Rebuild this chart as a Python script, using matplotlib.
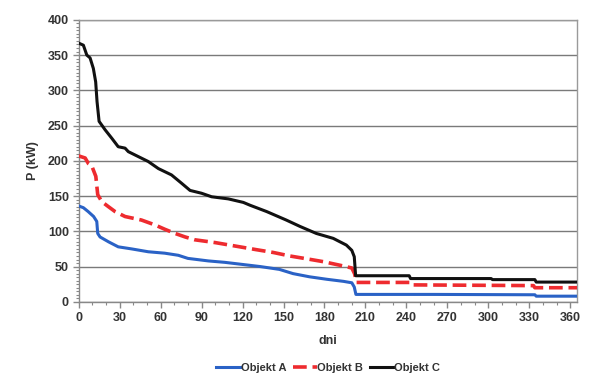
import matplotlib
matplotlib.use("Agg")
import matplotlib.pyplot as plt
from matplotlib.ticker import MultipleLocator

# Objekt A (blue)
days_a = [0, 3.5, 7, 11, 13.3, 14, 15.7, 22, 29, 39, 51, 63, 73, 80, 95, 107, 120,
          133, 147, 157, 169, 181.6, 194, 200, 201.8, 203, 260, 334, 335, 365]
kw_a = [136, 133.5, 128, 121, 114, 97, 92, 85, 78, 75, 71, 69, 66, 61.6, 58, 56, 53,
        50, 46, 40, 35.5, 32, 29, 27, 21, 10.5, 10.5, 10, 8, 8]

# Objekt B (red dashed)
days_b = [0, 4.8, 7.2, 9.6, 12.6, 14, 17, 21.8, 26.7, 34, 46, 56, 63, 70.6, 78, 85, 100,
          118, 130, 142.5, 154.7, 167, 179, 191, 200, 202, 203.5, 244, 245, 333, 334, 365]
kw_b = [207, 204, 196, 193, 178, 152, 142, 135, 128, 121, 116, 109, 103, 97, 92, 88, 84,
        78, 74, 70, 65, 61, 57, 52, 48, 40, 27.5, 27.5, 24, 23, 20, 20]

# Objekt C (black)
days_c = [0, 3.5, 6, 8.4, 10.8, 12.5, 13.5, 15, 19.4, 24.3, 29, 34, 36.4, 43.7, 51, 58.4,
          68, 75.5, 81.6, 90, 97.4, 109.6, 120.6, 125.5, 137.7, 152, 162, 174, 186.4, 196,
          200, 201.8, 202.8, 242, 243, 302, 303, 334, 335, 365]
kw_c = [367, 364, 350, 346, 331, 312, 284, 256, 244, 232, 220, 218, 213, 206, 199, 189,
        180, 168, 158, 154, 149, 146, 141, 137, 128, 116, 107, 97, 90, 80.5,
        73, 64, 37, 37, 33, 33, 31.5, 31.5, 28, 28]

x_ticks = list(range(0, 361, 30))
y_ticks = list(range(0, 401, 50))

plt.rcParams['font.family'] = ['Liberation Sans', 'DejaVu Sans']
txt = '#333333'

fig = plt.figure(figsize=(6.0, 3.74), dpi=100)
ax = fig.add_axes([0.131, 0.193, 0.831, 0.754])

ax.plot(days_a, kw_a, color='#2a62c6', lw=2.2, label='Objekt A', zorder=3)
ax.plot(days_b, kw_b, color='#ee2b2f', lw=2.6, dashes=(3.8, 1.6), label='Objekt B', zorder=4)
ax.plot(days_c, kw_c, color='#111111', lw=2.2, label='Objekt C', zorder=5)

ax.set_xlim(0, 365)
ax.set_ylim(0, 400)
ax.set_xticks(x_ticks)
ax.set_yticks(y_ticks)
ax.xaxis.set_minor_locator(MultipleLocator(10))
ax.yaxis.set_minor_locator(MultipleLocator(5))
ax.grid(axis='y', which='major', color='#7a7a7a', lw=1.0)
ax.set_axisbelow(True)

for s in ['top', 'right']:
    ax.spines[s].set_color('#9a9a9a')
    ax.spines[s].set_linewidth(1.0)
for s in ['left', 'bottom']:
    ax.spines[s].set_color('#888888')
    ax.spines[s].set_linewidth(1.0)

ax.tick_params(axis='both', which='major', direction='out', length=4, width=1,
               color='#888888', labelsize=9, labelcolor=txt, pad=3)
ax.tick_params(axis='both', which='minor', direction='out', length=2.5, width=0.8,
               color='#888888')
for lab in ax.get_xticklabels() + ax.get_yticklabels():
    lab.set_fontweight('bold')

ax.set_ylabel('P (kW)', fontsize=9, fontweight='bold', color=txt, labelpad=6)
ax.set_xlabel('dni', fontsize=9, fontweight='bold', color=txt, labelpad=8)

leg = fig.legend(loc='center', bbox_to_anchor=(0.547, 0.017), ncol=3, frameon=False,
                 prop={'size': 8, 'weight': 'bold'}, handlelength=2.15,
                 handletextpad=0.05, columnspacing=0.6, borderpad=0)
for t in leg.get_texts():
    t.set_color(txt)

fig.savefig('out.png', dpi=100)
